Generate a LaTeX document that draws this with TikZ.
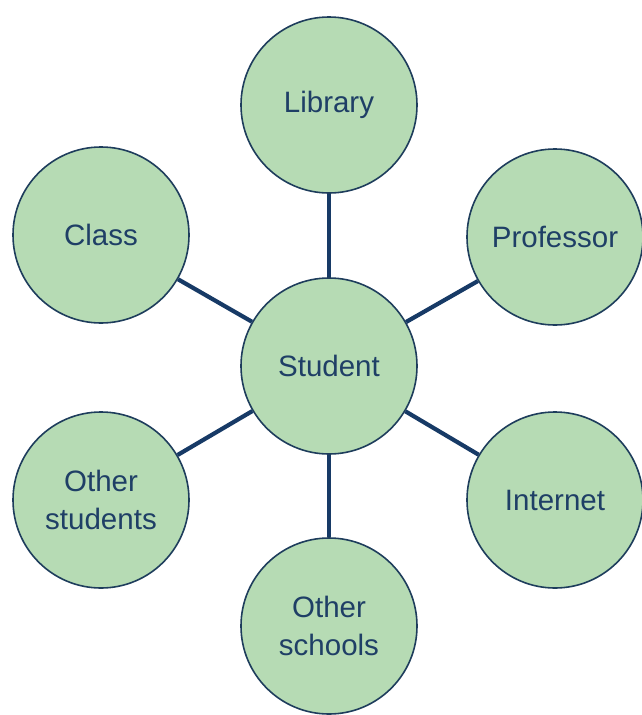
\documentclass[tikz,border=0pt]{standalone}
\usepackage{fontspec}
\setmainfont{Liberation Sans}
\definecolor{bubblefill}{HTML}{B6DBB4}
\definecolor{bubbleline}{HTML}{1E3D5C}
\definecolor{spoke}{HTML}{173A66}
\definecolor{labeltext}{HTML}{1F3F66}

\begin{document}
\begin{tikzpicture}[
  x=1pt,y=-1pt,
  every node/.style={draw=bubbleline,fill=bubblefill,circle,line width=1.6pt,
    minimum size=176pt,inner sep=0pt,align=center,text=labeltext,
    font=\fontsize{29.5}{38}\selectfont},
  ]
  \useasboundingbox (0,0) rectangle (642,715);
  \node(student) at (329,366){Student};
  \node(library) at (329,105){Library};
  \node(class) at (101,235){Class};
  \node(professor) at (555,237){Professor};
  \node(others) at (101,500){Other\\students};
  \node(internet) at (555,500){Internet};
  \node(schools) at (329,626){Other\\schools};
  \path[draw=spoke,line width=4.2pt]
  (student) edge (library)
  (student) edge (class)
  (student) edge (professor)
  (student) edge (others)
  (student) edge (internet)
  (student) edge (schools);
\end{tikzpicture}
\end{document}
